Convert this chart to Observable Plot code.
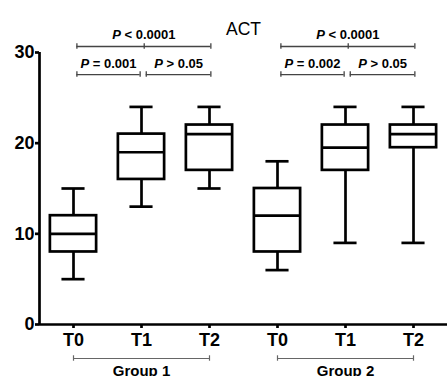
<!DOCTYPE html>
<html><head><meta charset="utf-8">
<script src="https://cdn.jsdelivr.net/npm/d3@7"></script>
<script src="https://cdn.jsdelivr.net/npm/@observablehq/plot@0.6"></script>
<style>body{margin:0;background:#fff}</style>
</head><body><div id="chart"></div>
<script>
const title = "ACT";
const groupNames = ["Group 1", "Group 2"];
const timepoints = ["T0", "T1", "T2", "T0", "T1", "T2"];
const groupOf = [0, 0, 0, 1, 1, 1];
const whiskerLow = [5, 13, 15, 6, 9, 9];
const q1 = [8, 16, 17, 8, 17, 19.5];
const median = [10, 19, 21, 12, 19.5, 21];
const q3 = [12, 21, 22, 15, 22, 22];
const whiskerHigh = [15, 24, 24, 18, 24, 24];
const yTicks = [0, 10, 20, 30];
const compFrom = [0, 0, 1, 3, 3, 4];
const compTo = [2, 1, 2, 5, 4, 5];
const compTier = ["top", "low", "low", "top", "low", "low"];
const compLabels = ["P < 0.0001", "P = 0.001", "P > 0.05", "P < 0.0001", "P = 0.002", "P > 0.05"];

const boxes = timepoints.map((t, i) => ({i, t, lo: whiskerLow[i], q1: q1[i], med: median[i], q3: q3[i], hi: whiskerHigh[i]}));
const bw = 0.34, cw = 0.17;

// annotation levels (in y units)
const level = {top: 30.66, low: 27.57};
const labelLevel = {top: 31.93, low: 28.7};
const tk = 0.3;
const comps = compLabels.map((lab, k) => {
  const a = compFrom[k], b = compTo[k];
  let x1 = a + 0.05, x2 = b + 0.02;
  if (compTier[k] === "low") {
    if (b - a === 1 && (a === 0 || a === 3)) { x2 = b - 0.02; }
    else { x1 = a + 0.07; }
  }
  return {lab, x1, x2, y: level[compTier[k]], ly: labelLevel[compTier[k]], mid: (a + b) / 2 + 0.04, tier: compTier[k]};
});
const compEnds = comps.flatMap(c => {
  const e = [{x: c.x1, y: c.y}, {x: c.x2, y: c.y}];
  if (c.tier === "top") e.push({x: c.mid, y: c.y});
  return e;
});
const grp = groupNames.map((g, k) => ({g, x1: k * 3, x2: k * 3 + 2, xm: k * 3 + 1}));
const grpY = -3.75, grpLabelY = -5.2;

const plot = Plot.plot({
  width: 447, height: 376,
  marginLeft: 39, marginRight: 0, marginTop: 52, marginBottom: 52,
  style: {fontFamily: "'Liberation Sans', Arial, sans-serif", fontWeight: "bold", color: "#000", background: "#fff"},
  x: {type: "linear", domain: [-0.5, 5.5], axis: null},
  y: {domain: [0, 30], axis: null},
  marks: [
    Plot.axisY({ticks: yTicks, tickSize: 4, tickPadding: 1, fontSize: 18, strokeWidth: 2.7, tickFormat: d => String(d)}),
    Plot.axisX({ticks: d3.range(6), tickSize: 4, tickPadding: 5, fontSize: 18, strokeWidth: 2.7, tickFormat: i => timepoints[i]}),
    Plot.ruleX([-0.5], {y1: 0, y2: 30, strokeWidth: 2.7}),
    Plot.ruleY([0], {strokeWidth: 2.7}),
    Plot.ruleX(boxes, {x: "i", y1: "lo", y2: "hi", strokeWidth: 2.7}),
    Plot.ruleY(boxes, {y: "lo", x1: d => d.i - cw, x2: d => d.i + cw, strokeWidth: 2.7}),
    Plot.ruleY(boxes, {y: "hi", x1: d => d.i - cw, x2: d => d.i + cw, strokeWidth: 2.7}),
    Plot.rect(boxes, {x1: d => d.i - bw, x2: d => d.i + bw, y1: "q1", y2: "q3", fill: "#fff", stroke: "#000", strokeWidth: 2.7}),
    Plot.ruleY(boxes, {y: "med", x1: d => d.i - bw, x2: d => d.i + bw, strokeWidth: 2.7}),
    // significance brackets
    Plot.ruleY(comps, {y: "y", x1: "x1", x2: "x2", stroke: "#444", strokeWidth: 1.3}),
    Plot.ruleX(compEnds, {x: "x", y1: d => d.y - tk, y2: d => d.y + tk, stroke: "#444", strokeWidth: 1.3}),
    Plot.text(comps, {x: d => (d.x1 + d.x2) / 2, y: "ly", text: "lab", fontSize: 13, fontWeight: "bold", fill: "#000"}),
    // group brackets
    Plot.ruleY(grp, {y: () => grpY, x1: "x1", x2: "x2", stroke: "#666", strokeWidth: 1.2}),
    Plot.ruleX(grp.flatMap(d => [d.x1, d.x2]), {x: d => d, y1: grpY - tk, y2: grpY + tk, stroke: "#666", strokeWidth: 1.2}),
    Plot.text(grp, {x: "xm", y: () => grpLabelY, text: "g", fontSize: 15, fontWeight: "bold", fill: "#000"}),
    // title
    Plot.text([title], {frameAnchor: "top", dy: -29.5, text: d => d, fontSize: 17.5, fontWeight: "normal", fill: "#000"})
  ]
});
d3.select(plot).selectAll("text").each(function() {
  const el = d3.select(this);
  const tspans = el.selectAll("tspan");
  if (!tspans.empty()) return;
  const s = el.text();
  if (/^P [<>=]/.test(s)) {
    el.text(null);
    el.append("tspan").attr("font-style", "italic").text("P");
    el.append("tspan").text(s.slice(1));
  }
});
document.getElementById("chart").appendChild(plot);
</script>
</body></html>
